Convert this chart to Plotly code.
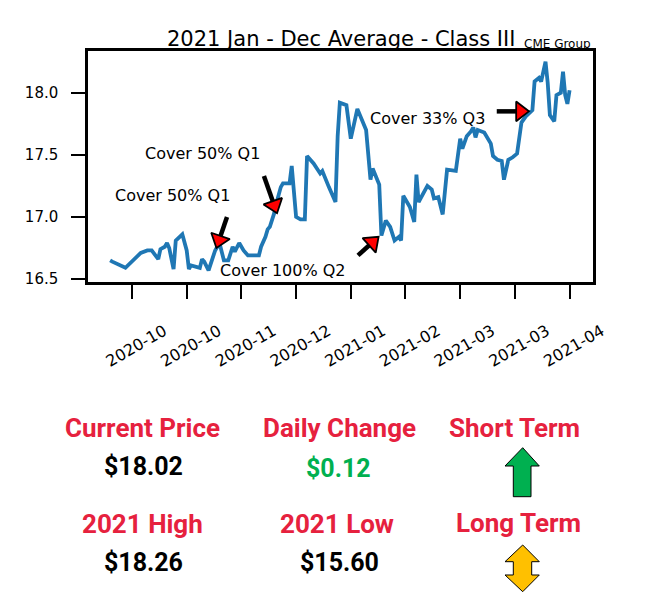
import math
import pandas as pd
import plotly.graph_objects as go

# Class III 2021 Jan-Dec average
dates = [
    "2020-09-25", "2020-09-26", "2020-10-02", "2020-10-05", "2020-10-09", "2020-10-12",
    "2020-10-14", "2020-10-17", "2020-10-18", "2020-10-20", "2020-10-21", "2020-10-22",
    "2020-10-24", "2020-10-25", "2020-10-28", "2020-10-30", "2020-10-31", "2020-11-01",
    "2020-11-04", "2020-11-05", "2020-11-06", "2020-11-07", "2020-11-09", "2020-11-12",
    "2020-11-14", "2020-11-16", "2020-11-18", "2020-11-20", "2020-11-21", "2020-11-23",
    "2020-11-25", "2020-11-27", "2020-12-02", "2020-12-03", "2020-12-05", "2020-12-06",
    "2020-12-07", "2020-12-09", "2020-12-10", "2020-12-12", "2020-12-13", "2020-12-16",
    "2020-12-17", "2020-12-18", "2020-12-19", "2020-12-21", "2020-12-23", "2020-12-24",
    "2020-12-27", "2020-12-30", "2020-12-31", "2021-01-03", "2021-01-06", "2021-01-07",
    "2021-01-08", "2021-01-11", "2021-01-13", "2021-01-16", "2021-01-20", "2021-01-22",
    "2021-01-23", "2021-01-26", "2021-01-27", "2021-01-29", "2021-01-31", "2021-02-02",
    "2021-02-04", "2021-02-05", "2021-02-06", "2021-02-09", "2021-02-11", "2021-02-12",
    "2021-02-13", "2021-02-17", "2021-02-19", "2021-02-20", "2021-02-22", "2021-02-24",
    "2021-02-26", "2021-03-02", "2021-03-04", "2021-03-05", "2021-03-07", "2021-03-09",
    "2021-03-10", "2021-03-11", "2021-03-12", "2021-03-15", "2021-03-18", "2021-03-19",
    "2021-03-21", "2021-03-23", "2021-03-24", "2021-03-26", "2021-03-28", "2021-03-30",
    "2021-04-01", "2021-04-03", "2021-04-06", "2021-04-07", "2021-04-09", "2021-04-10",
    "2021-04-12", "2021-04-13", "2021-04-14", "2021-04-16", "2021-04-17", "2021-04-19",
    "2021-04-20", "2021-04-21", "2021-04-22", "2021-04-23",
]
prices = [
    16.65, 16.64, 16.59, 16.64, 16.71, 16.73,
    16.73, 16.66, 16.74, 16.76, 16.79, 16.75,
    16.58, 16.81, 16.86, 16.73, 16.58, 16.61,
    16.60, 16.59, 16.66, 16.64, 16.57, 16.73,
    16.79, 16.65, 16.65, 16.76, 16.72, 16.79,
    16.73, 16.69, 16.69, 16.76, 16.84, 16.90,
    16.92, 17.03, 17.11, 17.24, 17.27, 17.27,
    17.41, 17.23, 17.00, 16.98, 16.98, 17.49,
    17.43, 17.35, 17.37, 17.24, 17.12, 17.65,
    17.92, 17.90, 17.63, 17.87, 17.70, 17.30,
    17.39, 17.26, 16.85, 16.97, 16.92, 16.81,
    16.84, 16.81, 17.17, 17.08, 16.96, 17.34,
    17.12, 17.25, 17.22, 17.15, 17.16, 17.02,
    17.38, 17.37, 17.63, 17.55, 17.65, 17.69,
    17.72, 17.64, 17.70, 17.68, 17.59, 17.49,
    17.46, 17.45, 17.30, 17.46, 17.48, 17.51,
    17.76, 17.81, 17.86, 18.09, 18.12, 18.09,
    18.25, 18.08, 17.82, 17.77, 17.98, 18.00,
    18.17, 17.98, 17.91, 18.02,
]

tick_dates = ["2020-10-05", "2020-10-30", "2020-11-24", "2020-12-19", "2021-01-13",
              "2021-02-07", "2021-03-04", "2021-03-29", "2021-04-23"]
tick_labels = ["2020-10", "2020-10", "2020-11", "2020-12", "2021-01",
               "2021-02", "2021-03", "2021-03", "2021-04"]
y_ticks = [16.5, 17.0, 17.5, 18.0]

# hedge notes and their arrows
note_text = ["Cover 50% Q1", "Cover 50% Q1", "Cover 100% Q2", "Cover 33% Q3"]
note_x = ["2020-10-23 17:00", "2020-11-06 10:00", "2020-12-13 00:00", "2021-02-16 20:00"]
note_y = [17.17, 17.51, 16.57, 17.79]
arrow_tail_x = ["2020-11-17 10:00", "2020-12-04 07:00", "2021-01-16 07:00", "2021-03-20 17:00"]
arrow_tail_y = [17.00, 17.33, 16.69, 17.85]
arrow_tip_x = ["2020-11-12 14:00", "2020-12-10 07:00", "2021-01-25 17:00", "2021-04-04 10:00"]
arrow_tip_y = [16.75, 17.03, 16.84, 17.85]

# summary panel under the chart
stat_labels = ["Current Price", "Daily Change", "Short Term", "2021 High", "2021 Low", "Long Term"]
stat_values = ["$18.02", "$0.12", "", "$18.26", "$15.60", ""]

W, H = 646, 612
L, R, T, B = 88, 593, 51, 282  # plot area in pixels
x_range = [pd.Timestamp("2020-09-14 21:20"), pd.Timestamp("2021-05-03 16:50")]
y_range = [16.476, 18.336]

px_per_day = (R - L) / ((x_range[1] - x_range[0]).total_seconds() / 86400)
px_per_unit = (B - T) / (y_range[1] - y_range[0])


def px(X):
    return (X - L) / (R - L)


def py(Y):
    return (B - Y) / (B - T)


mpl_font = "DejaVu Sans"
info_font = "Roboto"
red = "#E6213E"

fig = go.Figure()

fig.add_trace(
    go.Scatter(
        x=dates,
        y=prices,
        mode="lines",
        line=dict(color="#1f77b4", width=3.8),
        hoverinfo="skip",
        showlegend=False,
    )
)

# arrows: black shaft with a red head pointing at the price
head_r = 8.5
for tx, ty, hx, hy in zip(arrow_tail_x, arrow_tail_y, arrow_tip_x, arrow_tip_y):
    tx, hx = pd.Timestamp(tx), pd.Timestamp(hx)
    dx = (hx - tx).total_seconds() / 86400 * px_per_day
    dy = (hy - ty) * px_per_unit
    frac = head_r / math.hypot(dx, dy)
    cx = hx - (hx - tx) * frac
    cy = hy - (hy - ty) * frac
    fig.add_trace(
        go.Scatter(
            x=[tx, cx],
            y=[ty, cy],
            mode="lines+markers",
            line=dict(color="black", width=4.5),
            marker=dict(
                symbol=["circle", "triangle-up"],
                size=[0, 17],
                color="#FF0000",
                opacity=1,
                angleref="previous",
                line=dict(color="black", width=1.8),
            ),
            hoverinfo="skip",
            showlegend=False,
        )
    )

annotations = []
for t, x, y in zip(note_text, note_x, note_y):
    annotations.append(
        dict(x=x, y=y, xref="x", yref="y", xanchor="center", text=t, showarrow=False,
             font=dict(family=mpl_font, size=16, color="black"))
    )

annotations.append(
    dict(x=0.5, y=1, xref="paper", yref="paper", xanchor="center", yanchor="bottom", yshift=-2,
         text="2021 Jan - Dec Average - Class III", showarrow=False,
         font=dict(family=mpl_font, size=21, color="black"))
)
annotations.append(
    dict(x=1, y=1, xref="paper", yref="paper", xanchor="right", yanchor="bottom", yshift=-2,
         text="CME Group", showarrow=False,
         font=dict(family=mpl_font, size=12, color="black"))
)

# summary panel
label_pos = [(142, 428), (339, 428), (514, 428), (142, 524), (337, 524), (518, 523)]
value_pos = [(143, 467), (338, 468), None, (143, 562), (339, 562), None]
for lab, val, lp, vp in zip(stat_labels, stat_values, label_pos, value_pos):
    annotations.append(
        dict(x=px(lp[0]), y=py(lp[1]), xref="paper", yref="paper",
             xanchor="center", yanchor="middle", text="<b>%s</b>" % lab,
             showarrow=False, font=dict(family=info_font, size=26, color=red))
    )
    if val:
        color = "#00B050" if val == "$0.12" else "black"
        annotations.append(
            dict(x=px(vp[0]), y=py(vp[1]), xref="paper", yref="paper",
                 xanchor="center", yanchor="middle", text="<b>%s</b>" % val,
                 showarrow=False, font=dict(family=info_font, size=25, color=color))
        )


def poly(points):
    return "M " + " L ".join("%f,%f" % (px(a), py(b)) for a, b in points) + " Z"


up_arrow = [(522.7, 447.7), (539.3, 466), (531, 466), (531, 496.7),
            (513.3, 496.7), (513.3, 466), (505, 466)]
both_arrow = [(522.7, 545), (539.3, 561.7), (531.7, 561.7), (531.7, 575), (539.3, 575),
              (522.7, 591.7), (505, 575), (513.3, 575), (513.3, 561.7), (505, 561.7)]
shapes = [
    dict(type="path", xref="paper", yref="paper", path=poly(up_arrow),
         fillcolor="#00B050", line=dict(color="black", width=1)),
    dict(type="path", xref="paper", yref="paper", path=poly(both_arrow),
         fillcolor="#FFC000", line=dict(color="black", width=1)),
]

fig.update_layout(
    width=W,
    height=H,
    margin=dict(l=L, r=W - R, t=T, b=H - B, pad=0),
    paper_bgcolor="white",
    plot_bgcolor="white",
    font=dict(family=mpl_font, color="black"),
    annotations=annotations,
    shapes=shapes,
    showlegend=False,
    xaxis=dict(
        type="date",
        range=x_range,
        tickmode="array",
        tickvals=tick_dates,
        ticktext=tick_labels,
        tickangle=-30,
        tickfont=dict(family=mpl_font, size=16, color="black"),
        ticks="outside",
        ticklen=14,
        tickwidth=2,
        tickcolor="black",
        ticklabelstandoff=17,
        ticklabelshift=32,
        showline=True,
        linewidth=2.5,
        linecolor="black",
        mirror=True,
        showgrid=False,
        zeroline=False,
    ),
    yaxis=dict(
        range=y_range,
        tickmode="array",
        tickvals=y_ticks,
        tickformat=".1f",
        tickfont=dict(family=mpl_font, size=15, color="black"),
        ticks="outside",
        ticklen=14,
        tickwidth=2,
        tickcolor="black",
        ticklabelstandoff=10,
        showline=True,
        linewidth=2.5,
        linecolor="black",
        mirror=True,
        showgrid=False,
        zeroline=False,
    ),
)

# drop the page margin so the figure sits in the window corner
fig.write_html(
    "out.html",
    config={"displayModeBar": False},
    post_script="document.body.style.margin = '0';",
)
